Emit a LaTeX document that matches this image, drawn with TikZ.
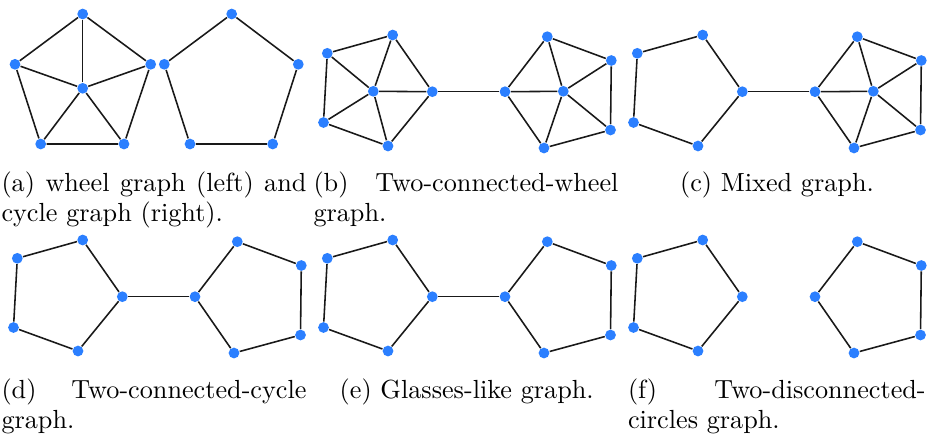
\documentclass[tikz,border=0pt]{standalone}
\usepackage{tikz}
\definecolor{dotblue}{HTML}{2B7FFF}
\tikzset{
  dot/.style={circle, fill=dotblue, draw=none, inner sep=0pt, minimum size=4.1pt},
  edge/.style={line width=0.6pt, draw=black!90},
  captext/.style={inner sep=0pt, anchor=base west, font=\fontsize{10}{12}\selectfont},
  captextc/.style={inner sep=0pt, anchor=base, font=\fontsize{10}{12}\selectfont},
}
% left pentagon (bridge vertex p5 on the right); #1 prefix, #2 dx, #3 dy, #4 wheel? (1/0)
\newcommand{\pentLeft}[4]{%
  \begin{scope}[shift={(#2,#3)}]
    \node[dot] (#1p1) at (82.7,35) {};
    \node[dot] (#1p2) at (17.3,53.3) {};
    \node[dot] (#1p3) at (13.5,122.5) {};
    \node[dot] (#1p4) at (78,146) {};
    \node[dot] (#1p5) at (122.3,91.7) {};
    \ifnum#4=1 \node[dot] (#1c) at (63.3,91.3) {};\fi
  \end{scope}
  \draw[edge] (#1p1)--(#1p2)--(#1p3)--(#1p4)--(#1p5)--(#1p1);
  \ifnum#4=1 \foreach \k in {1,...,5}{\draw[edge] (#1c)--(#1p\k);}\fi
}
% right pentagon (bridge vertex p1 on the left)
\newcommand{\pentRight}[4]{%
  \begin{scope}[shift={(#2,#3)}]
    \node[dot] (#1p1) at (195,91.7) {};
    \node[dot] (#1p2) at (237.3,36.7) {};
    \node[dot] (#1p3) at (301.3,60.5) {};
    \node[dot] (#1p4) at (300.5,130) {};
    \node[dot] (#1p5) at (234,148) {};
    \ifnum#4=1 \node[dot] (#1c) at (253.3,91.3) {};\fi
  \end{scope}
  \draw[edge] (#1p1)--(#1p2)--(#1p3)--(#1p4)--(#1p5)--(#1p1);
  \ifnum#4=1 \foreach \k in {1,...,5}{\draw[edge] (#1c)--(#1p\k);}\fi
}
\begin{document}
\begin{tikzpicture}[x=0.3817pt,y=-0.3817pt]
\useasboundingbox (0,0) rectangle (928,435);

% ---- (a) wheel graph
\node[dot] (wt) at (82.7,14) {};
\node[dot] (wl) at (15,64.3) {};
\node[dot] (wr) at (150.7,64.3) {};
\node[dot] (wbl) at (40.7,144) {};
\node[dot] (wbr) at (124,144) {};
\node[dot] (wc) at (82.7,88.3) {};
\draw[edge] (wt)--(wr)--(wbr)--(wbl)--(wl)--(wt);
\foreach \v in {wt,wl,wr,wbl,wbr}{\draw[edge] (wc)--(\v);}
% ---- (a) cycle graph
\node[dot] (ct) at (231.7,14) {};
\node[dot] (cl) at (164.3,64.3) {};
\node[dot] (cr) at (298.3,64.3) {};
\node[dot] (cbl) at (190,144) {};
\node[dot] (cbr) at (272.7,144) {};
\draw[edge] (ct)--(cr)--(cbr)--(cbl)--(cl)--(ct);

% ---- (b) two connected wheels
\pentLeft{bL}{310}{0}{1}
\pentRight{bR}{310}{0}{1}
\draw[edge] (bLp5)--(bRp1);

% ---- (c) mixed
\pentLeft{cL}{620}{0}{0}
\pentRight{cR}{620}{0}{1}
\draw[edge] (cLp5)--(cRp1);

% ---- (d) two connected cycles
\pentLeft{dL}{0}{205}{0}
\pentRight{dR}{0}{205}{0}
\draw[edge] (dLp5)--(dRp1);

% ---- (e) glasses-like
\pentLeft{eL}{310}{205}{0}
\pentRight{eR}{310}{205}{0}
\draw[edge] (eLp5)--(eRp1);

% ---- (f) two disconnected
\pentLeft{fL}{620}{205}{0}
\pentRight{fR}{620}{205}{0}

% ---- captions
\node[captext] (capa1) at (1,191.7) {\makebox[116.4pt][s]{(a) wheel graph (left) and}};
\node[captext] (capa2) at (1,221.7) {cycle graph (right).};
\node[captext] (capb1) at (313,191.7) {\makebox[116.4pt][s]{(b) Two-connected-wheel}};
\node[captext] (capb2) at (313,221.7) {graph.};
\node[captextc] (capc1) at (777,191.7) {(c) Mixed graph.};
\node[captext] (capd1) at (1,398.7) {\makebox[116.4pt][s]{(d) Two-connected-cycle}};
\node[captext] (capd2) at (1,428.7) {graph.};
\node[captextc] (cape1) at (466.7,398.7) {(e) Glasses-like graph.};
\node[captext] (capf1) at (627.5,398.7) {\makebox[113.6pt][s]{(f) Two-disconnected-}};
\node[captext] (capf2) at (627.5,428.7) {circles graph.};
\end{tikzpicture}
\end{document}
